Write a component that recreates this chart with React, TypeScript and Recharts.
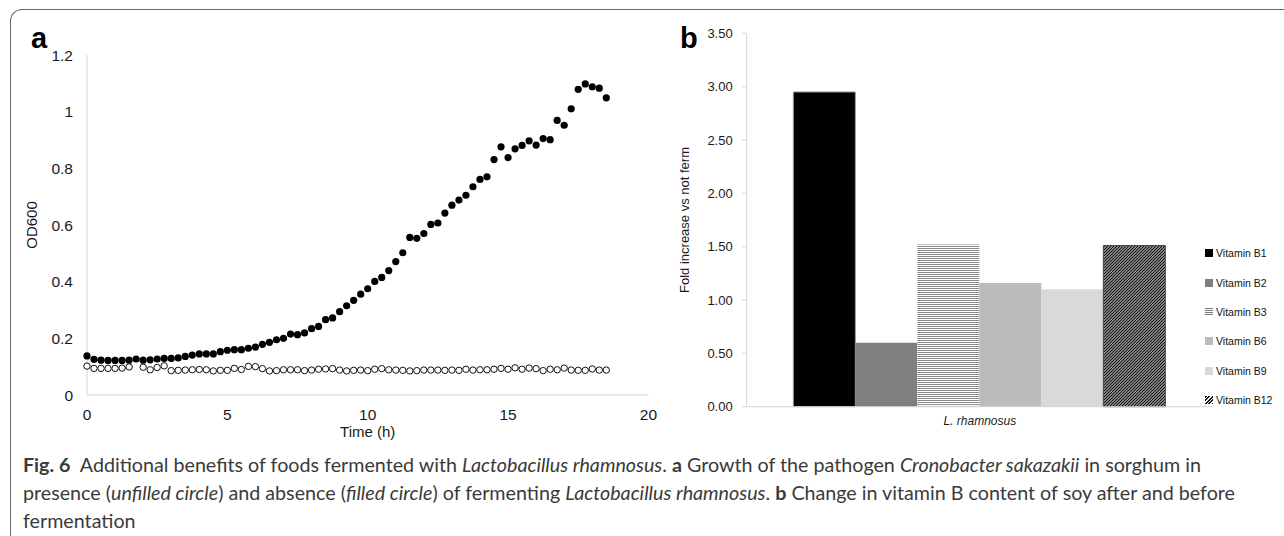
import React from "react";
import { ScatterChart, Scatter, XAxis, YAxis, BarChart, Bar } from "recharts";

// panel a: sampling times (h) and OD600 readings
const hours = [
  0, 0.25, 0.5, 0.75, 1, 1.25, 1.5, 1.75, 2, 2.25, 2.5, 2.75, 3, 3.25, 3.5, 3.75,
  4, 4.25, 4.5, 4.75, 5, 5.25, 5.5, 5.75, 6, 6.25, 6.5, 6.75, 7, 7.25, 7.5, 7.75,
  8, 8.25, 8.5, 8.75, 9, 9.25, 9.5, 9.75, 10, 10.25, 10.5, 10.75, 11, 11.25, 11.5,
  11.75, 12, 12.25, 12.5, 12.75, 13, 13.25, 13.5, 13.75, 14, 14.25, 14.5, 14.75,
  15, 15.25, 15.5, 15.75, 16, 16.25, 16.5, 16.75, 17, 17.25, 17.5, 17.75, 18,
  18.25, 18.5,
];

// absence of L. rhamnosus (filled circles)
const absentOD = [
  0.138, 0.126, 0.123, 0.122, 0.122, 0.122, 0.123, 0.127, 0.123, 0.124, 0.127,
  0.129, 0.129, 0.131, 0.136, 0.141, 0.145, 0.145, 0.145, 0.153, 0.158, 0.16,
  0.16, 0.165, 0.169, 0.179, 0.186, 0.195, 0.2, 0.215, 0.213, 0.219, 0.234,
  0.242, 0.266, 0.272, 0.294, 0.315, 0.334, 0.356, 0.375, 0.401, 0.415, 0.439,
  0.471, 0.502, 0.556, 0.553, 0.57, 0.602, 0.607, 0.642, 0.67, 0.688, 0.705,
  0.735, 0.761, 0.77, 0.831, 0.876, 0.838, 0.869, 0.881, 0.897, 0.882, 0.905,
  0.901, 0.969, 0.952, 1.01, 1.079, 1.098, 1.088, 1.083, 1.049,
];

// presence of L. rhamnosus (unfilled circles)
const presentOD = [
  0.102, 0.094, 0.094, 0.094, 0.094, 0.095, 0.099, null, 0.098, 0.089, 0.097,
  0.103, 0.086, 0.087, 0.088, 0.089, 0.09, 0.089, 0.085, 0.087, 0.087, 0.094,
  0.09, 0.101, 0.1, 0.093, 0.085, 0.086, 0.089, 0.089, 0.089, 0.086, 0.088,
  0.091, 0.092, 0.093, 0.088, 0.085, 0.087, 0.088, 0.086, 0.091, 0.093, 0.089,
  0.088, 0.087, 0.085, 0.086, 0.088, 0.088, 0.088, 0.087, 0.088, 0.087, 0.091,
  0.088, 0.089, 0.089, 0.091, 0.094, 0.091, 0.096, 0.091, 0.095, 0.093, 0.086,
  0.091, 0.089, 0.095, 0.088, 0.087, 0.087, 0.092, 0.088, 0.088,
];

const timeTicks = [0, 5, 10, 15, 20];
const odTicks = [0, 0.2, 0.4, 0.6, 0.8, 1, 1.2];

// panel b
const strains = ["L. rhamnosus"];
const vitamins = ["Vitamin B1", "Vitamin B2", "Vitamin B3", "Vitamin B6", "Vitamin B9", "Vitamin B12"];
const foldChange = [2.95, 0.6, 1.52, 1.16, 1.1, 1.51];
const foldTicks = [0, 0.5, 1, 1.5, 2, 2.5, 3, 3.5];

const barFills = ["#000000", "#7f7f7f", "url(#hStripe)", "#bcbcbc", "#d9d9d9", "url(#diagHatch)"];
const legendFills = [
  "#000000",
  "#7f7f7f",
  "repeating-linear-gradient(to bottom, #7a7a7a 0px, #7a7a7a 1px, #ffffff 1px, #ffffff 2px)",
  "#bcbcbc",
  "#d9d9d9",
  "repeating-linear-gradient(-45deg, #111 0px, #111 1.4px, #fff 1.4px, #fff 2.4px)",
];

const absentData = hours.map((t, i) => ({ t, v: absentOD[i] }));
const presentData = hours
  .map((t, i) => ({ t, v: presentOD[i] }))
  .filter((d) => d.v !== null);

const barRow: Record<string, string | number> = { name: strains[0] };
vitamins.forEach((_, i) => {
  barRow["v" + i] = foldChange[i];
});
const barData = [barRow];

const axisGray = "#d4d4d4";
const sans = "'Liberation Sans', Arial, sans-serif";

const FilledDot = (props: any) => <circle cx={props.cx} cy={props.cy} r={3.6} fill="#000" />;
const OpenDot = (props: any) => (
  <circle cx={props.cx} cy={props.cy} r={3.2} fill="#fff" stroke="#111" strokeWidth={1} />
);

const VitaminLegend = () => (
  <div
    style={{
      position: "absolute",
      left: 1205,
      top: 238.7,
      fontFamily: sans,
      fontSize: 10.5,
      color: "#111",
    }}
  >
    {vitamins.map((name, i) => (
      <div key={name} style={{ height: 29.3, display: "flex", alignItems: "center", whiteSpace: "nowrap" }}>
        <span
          style={{
            display: "inline-block",
            width: 8,
            height: 8,
            background: legendFills[i],
            marginRight: 3,
          }}
        />
        {name}
      </div>
    ))}
  </div>
);

const Caption = () => (
  <div
    style={{
      position: "absolute",
      left: 23,
      top: 451,
      fontFamily: "Lato, 'Open Sans', sans-serif",
      fontSize: 19.7,
      lineHeight: "28px",
      color: "#3a3a3a",
      whiteSpace: "nowrap",
    }}
  >
    <b>Fig. 6</b>&nbsp; Additional benefits of foods fermented with <i>Lactobacillus rhamnosus</i>. <b>a</b> Growth of
    the pathogen <i>Cronobacter sakazakii</i> in sorghum in
    <br />
    presence (<i>unfilled circle</i>) and absence (<i>filled circle</i>) of fermenting <i>Lactobacillus rhamnosus</i>.{" "}
    <b>b</b> Change in vitamin B content of soy after and before
    <br />
    fermentation
  </div>
);

export default function App() {
  return (
    <div
      style={{
        position: "absolute",
        left: 0,
        top: 0,
        width: 1284,
        height: 536,
        overflow: "hidden",
        background: "#fff",
        fontFamily: sans,
      }}
    >
      <div
        style={{
          position: "absolute",
          left: 10,
          top: 9,
          width: 1300,
          height: 560,
          borderTop: "1.5px solid #666",
          borderLeft: "1.5px solid #666",
          borderTopLeftRadius: 12,
        }}
      />

      <div style={{ position: "absolute", left: 0, top: 0 }}>
        <ScatterChart width={680} height={440} margin={{ top: 55, right: 31.6, left: 27, bottom: 0 }}>
          <XAxis
            type="number"
            dataKey="t"
            domain={[0, 20]}
            ticks={timeTicks}
            height={45}
            stroke={axisGray}
            tickLine={false}
            tickMargin={8}
            tick={{ fill: "#1a1a1a", fontSize: 15.5, fontFamily: sans }}
            label={{ value: "Time (h)", position: "insideBottom", offset: 3, fill: "#1a1a1a", fontSize: 15, fontFamily: sans }}
          />
          <YAxis
            type="number"
            dataKey="v"
            domain={[0, 1.2]}
            ticks={odTicks}
            width={60}
            stroke={axisGray}
            tickLine={false}
            tickMargin={8}
            tick={{ fill: "#1a1a1a", fontSize: 15.5, fontFamily: sans }}
            label={{
              value: "OD600",
              angle: -90,
              position: "insideLeft",
              offset: 5,
              fill: "#1a1a1a",
              fontSize: 15,
              fontFamily: sans,
              style: { textAnchor: "middle" },
            }}
          />
          <Scatter data={absentData} shape={FilledDot} isAnimationActive={false} />
          <Scatter data={presentData} shape={OpenDot} isAnimationActive={false} />
        </ScatterChart>
      </div>

      <div style={{ position: "absolute", left: 640, top: 0 }}>
        <BarChart
          width={644}
          height={440}
          data={barData}
          margin={{ top: 33.3, right: 71, left: 46.7, bottom: 0 }}
          barCategoryGap="10%"
          barGap={0}
        >
          <defs>
            <pattern id="hStripe" width={4} height={2} patternUnits="userSpaceOnUse">
              <rect width={4} height={2} fill="#ffffff" />
              <rect width={4} height={1} fill="#8a8a8a" />
            </pattern>
            <pattern id="diagHatch" width={3} height={3} patternUnits="userSpaceOnUse">
              <rect width={3} height={3} fill="#ffffff" />
              <path d="M-1,1 l2,-2 M0,3 l3,-3 M2,4 l2,-2" stroke="#111" strokeWidth={1.5} />
            </pattern>
          </defs>
          <XAxis
            dataKey="name"
            height={33.3}
            stroke={axisGray}
            tickLine={false}
            tickMargin={4}
            tick={{ fill: "#1a1a1a", fontSize: 12, fontStyle: "italic", fontFamily: sans }}
          />
          <YAxis
            domain={[0, 3.5]}
            ticks={foldTicks}
            width={60}
            stroke={axisGray}
            tickSize={5}
            tickMargin={9}
            tickFormatter={(v: number) => v.toFixed(2)}
            tick={{ fill: "#1a1a1a", fontSize: 13, fontFamily: sans }}
            label={{
              value: "Fold increase vs not ferm",
              angle: -90,
              position: "insideLeft",
              offset: -2,
              fill: "#1a1a1a",
              fontSize: 13,
              fontFamily: sans,
              style: { textAnchor: "middle" },
            }}
          />
          {vitamins.map((name, i) => (
            <Bar
              key={name}
              dataKey={"v" + i}
              name={name}
              fill={barFills[i]}
              stroke={i === 0 ? "#9a9a9a" : i === 5 ? "#444" : "none"}
              strokeWidth={i === 0 || i === 5 ? 1 : 0}
              isAnimationActive={false}
            />
          ))}
        </BarChart>
      </div>

      <VitaminLegend />

      <div style={{ position: "absolute", left: 31, top: 22, fontSize: 29, fontWeight: "bold", color: "#000" }}>a</div>
      <div style={{ position: "absolute", left: 680, top: 22, fontSize: 29, fontWeight: "bold", color: "#000" }}>b</div>

      <Caption />
    </div>
  );
}
